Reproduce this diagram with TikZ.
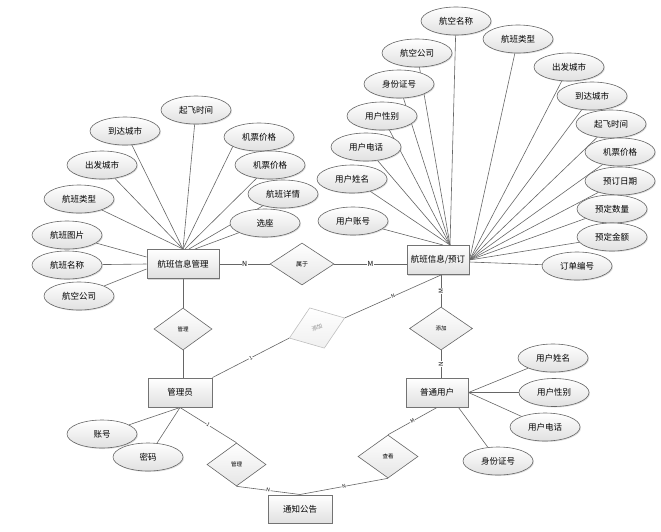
\documentclass[tikz,border=0pt]{standalone}
\usepackage{fontspec}
\newfontfamily\cjk{Noto Sans CJK SC}
\usetikzlibrary{shapes.geometric,shadows}
\pgfdeclarelayer{back}
\pgfsetlayers{back,main}

\begin{document}
\begin{tikzpicture}[x=1pt, y=-1pt,
    line/.style={draw=black!60, line width=0.6pt},
    ent/.style={draw=black!55, line width=1pt, top color=white, bottom color=black!12,
        minimum height=29pt, inner sep=0pt, font=\cjk\fontsize{8.5}{10}\selectfont,
        drop shadow={shadow xshift=1.2pt, shadow yshift=-1.2pt, opacity=0.3}},
    attr/.style={ellipse, draw=black!60, line width=0.6pt, top color=white, bottom color=black!12,
        minimum width=70pt, minimum height=28pt, inner sep=0pt, font=\cjk\fontsize{8.5}{10}\selectfont,
        drop shadow={shadow xshift=1pt, shadow yshift=-1pt, opacity=0.25}},
    rel/.style={diamond, draw=black!60, line width=0.6pt, top color=white, bottom color=black!10,
        inner sep=0pt, font=\cjk\fontsize{5.5}{6}\selectfont},
    card/.style={fill=white, inner sep=0.5pt, font=\cjk\fontsize{7}{8}\selectfont},
    smallcard/.style={card, font=\cjk\fontsize{5}{6}\selectfont},
    ]
    \useasboundingbox (0,0) rectangle (661,531);

    % entities
    \node[ent, minimum width=72pt] (fm) at (183,264) {航班信息管理};
    \node[ent, minimum width=62pt] (fb) at (438,260) {航班信息/预订};
    \node[ent, minimum width=64pt] (adm) at (180,392.5) {管理员};
    \node[ent, minimum width=62pt] (usr) at (437,392.5) {普通用户};
    \node[ent, minimum width=64pt, minimum height=28pt] (ntc) at (300,509) {通知公告};

    % relations
    \node[rel, minimum width=64pt, minimum height=42pt, font=\cjk\fontsize{6}{7}\selectfont] (belong) at (302,264) {属于};
    \node[rel, minimum width=58pt, minimum height=42pt] (mng1) at (183,329) {管理};
    \node[rel, minimum width=59pt, minimum height=43pt, rotate=20, draw=black!25, text=black!45,
        bottom color=black!6] (add1) at (317,328) {添加}; % grey one
    \node[rel, minimum width=63pt, minimum height=43pt] (add2) at (441,328.5) {添加};
    \node[rel, minimum width=59pt, minimum height=43pt] (mng2) at (236.5,464.5) {管理};
    \node[rel, minimum width=60pt, minimum height=43pt] (view) at (388,456.5) {查看};

    % attributes of fm
    \node[attr] (fm1) at (196,110) {起飞时间};
    \node[attr] (fm2) at (125,131) {到达城市};
    \node[attr] (fm3) at (102,165) {出发城市};
    \node[attr] (fm4) at (79,199) {航班类型};
    \node[attr] (fm5) at (67,235) {航班图片};
    \node[attr] (fm6) at (67,265) {航班名称};
    \node[attr] (fm7) at (79,296) {航空公司};
    \node[attr] (fm8) at (259,137) {机票价格};
    \node[attr] (fm9) at (270,165) {机票价格};
    \node[attr] (fm10) at (283,194) {航班详情};
    \node[attr] (fm11) at (265,223) {选座};

    % attributes of fb
    \node[attr] (fb1) at (456,21) {航空名称};
    \node[attr] (fb2) at (518,39) {航班类型};
    \node[attr] (fb3) at (417,53) {航空公司};
    \node[attr] (fb4) at (569,67) {出发城市};
    \node[attr] (fb5) at (399,84) {身份证号};
    \node[attr] (fb6) at (592,96) {到达城市};
    \node[attr] (fb7) at (382,116) {用户性别};
    \node[attr] (fb8) at (611,124) {起飞时间};
    \node[attr] (fb9) at (366,147) {用户电话};
    \node[attr] (fb10) at (620,152) {机票价格};
    \node[attr] (fb11) at (352,179) {用户姓名};
    \node[attr] (fb12) at (620,181) {预订日期};
    \node[attr] (fb13) at (353,221) {用户账号};
    \node[attr] (fb14) at (612,209) {预定数量};
    \node[attr] (fb15) at (612,237) {预定金额};
    \node[attr] (fb16) at (577,266) {订单编号};

    % attributes of usr and adm
    \node[attr] (u1) at (553,358) {用户姓名};
    \node[attr] (u2) at (554,392.5) {用户性别};
    \node[attr] (u3) at (545,427) {用户电话};
    \node[attr] (u4) at (498,461) {身份证号};
    \node[attr] (ad1) at (102,434) {账号};
    \node[attr] (ad2) at (148,457) {密码};

    \begin{pgfonlayer}{back}
    \draw[line] (fm1) -- (fm.north);
    \draw[line] (fm2) -- (fm.north);
    \draw[line] (fm3) -- (fm.north);
    \draw[line] (fm4) -- (fm.north);
    \draw[line] (fm5) -- ([yshift=7pt]fm.west);
    \draw[line] (fm6) -- (fm.west);
    \draw[line] (fm7) -- ([yshift=-5pt]fm.west);
    \draw[line] (fm8.200) -- (fm.north);
    \draw[line] (fm9) -- ([xshift=2pt]fm.north);
    \draw[line] (fm10) -- ([xshift=6pt]fm.north);
    \draw[line] (fm11) -- ([xshift=12pt]fm.north);

    \draw[line] (fb1) -- ([xshift=12pt]fb.north);
    \draw[line] (fb3) -- ([xshift=12pt]fb.north);
    \draw[line] (fb5) -- ([xshift=12pt]fb.north);
    \draw[line] (fb7) -- ([xshift=12pt]fb.north);
    \draw[line] (fb9) -- ([xshift=12pt]fb.north);
    \draw[line] (fb11) -- ([xshift=12pt]fb.north);
    \draw[line] (fb13) -- ([xshift=5pt]fb.north);
    \draw[line] (fb2) -- (fb.east);
    \draw[line] (fb4) -- (fb.east);
    \draw[line] (fb6) -- (fb.east);
    \draw[line] (fb8) -- (fb.east);
    \draw[line] (fb10) -- (fb.east);
    \draw[line] (fb12) -- (fb.east);
    \draw[line] (fb14) -- (fb.east);
    \draw[line] (fb15) -- (fb.east);
    \draw[line] (fb16) -- ([yshift=-2pt]fb.east);

    \draw[line] (u1) -- (usr.east);
    \draw[line] (u2) -- (usr.east);
    \draw[line] (u3) -- (usr.east);
    \draw[line] (u4) -- ([xshift=-10pt]usr.south east);
    \draw[line] (ad1) -- (adm.south);
    \draw[line] (ad2) -- (adm.south);

    % relation links
    \draw[line] (fm) -- node[card]{N} (belong);
    \draw[line] (belong.east) -- node[card]{M} (belong.east -| fb.west);
    \draw[line] (fm.south) -- (mng1.north);
    \draw[line] (mng1.south) -- (mng1.south |- adm.north);
    \draw[line] (adm.north east) -- node[smallcard, sloped]{1} (add1.west);
    \draw[line] (add1.east) -- node[smallcard, sloped]{N} ([xshift=3pt]fb.south);
    \draw[line] ([xshift=3pt]fb.south) -- node[smallcard, rotate=90, font=\cjk\fontsize{6}{7}\selectfont]{M} (add2.north);
    \draw[line] (add2.south) -- node[smallcard, rotate=90, font=\cjk\fontsize{6}{7}\selectfont]{N} (add2.south |- usr.north);
    \draw[line] (adm.south) -- node[smallcard, sloped]{1} (mng2.north);
    \draw[line] (mng2.south) -- node[smallcard, sloped]{N} (ntc.north);
    \draw[line] (ntc.north) -- node[smallcard, sloped]{N} (view.south);
    \draw[line] (view.north) -- node[smallcard, sloped]{M} (usr.south);
    \end{pgfonlayer}
\end{tikzpicture}
\end{document}
